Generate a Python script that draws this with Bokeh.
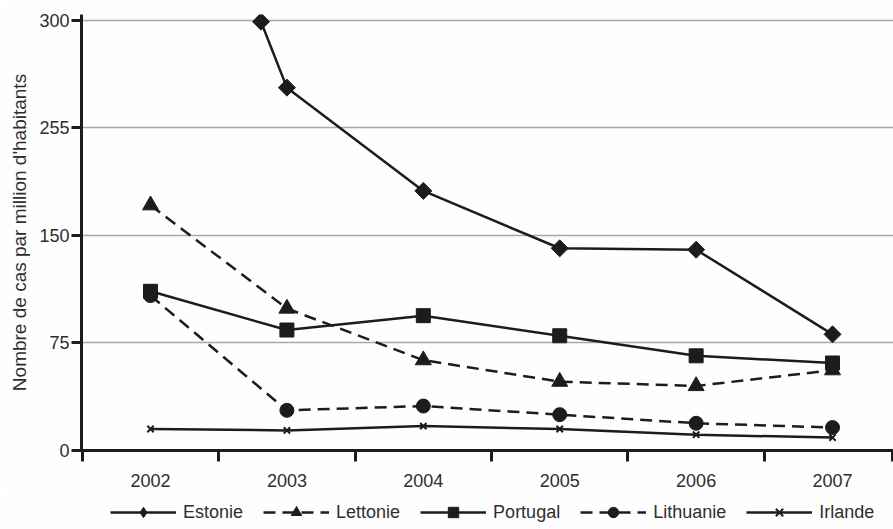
import math
from bokeh.plotting import figure
from bokeh.layouts import column
from bokeh.models import FixedTicker, Legend, LegendItem, Range1d
from bokeh.embed import file_html
from bokeh.resources import INLINE

years = [2002, 2003, 2004, 2005, 2006, 2007]
year_labels = ["2002", "2003", "2004", "2005", "2006", "2007"]
# Estonia's first visible point sits at the top edge, between 2002 and 2003
estonie_x = [2002.81, 2003, 2004, 2005, 2006, 2007]
estonie = [299, 253, 181, 141, 140, 81]
lettonie = [171, 99, 63, 48, 45, 56]
portugal = [111, 84, 94, 80, 66, 61]
lithuanie = [108, 28, 31, 25, 19, 16]
irlande = [15, 14, 17, 15, 11, 9]
y_ticks = [0, 75, 150, 225, 300]
y_tick_labels = ["0", "75", "150", "255", "300"]

FONT = "Liberation Sans"
INK = "#1c1c1c"
TXT = "#2e2e2e"
BG = "#fefefe"

p = figure(frame_width=812, frame_height=436, output_backend="svg", toolbar_location=None,
           x_range=Range1d(2001.494, 2007.447), y_range=Range1d(0, 304),
           min_border_left=81, min_border_right=0, min_border_top=14, min_border_bottom=45)
p.outline_line_color = None
p.background_fill_color = BG
p.border_fill_color = BG

# x axis
p.xaxis.ticker = FixedTicker(ticks=years, minor_ticks=[y - 0.5 for y in years] + [2007.44])
p.xaxis.major_label_overrides = {y: l for y, l in zip(years, year_labels)}
p.xaxis.major_tick_out = 0
p.xaxis.major_tick_in = 0
p.xaxis.minor_tick_out = 11
p.xaxis.minor_tick_in = 0
p.xaxis.minor_tick_line_width = 3
p.xaxis.minor_tick_line_color = INK
p.xaxis.axis_line_width = 3
p.xaxis.axis_line_color = INK
p.xaxis.major_label_text_font = FONT
p.xaxis.major_label_text_font_size = "18px"
p.xaxis.major_label_text_color = TXT
p.xaxis.major_label_standoff = 12

# y axis
p.yaxis.ticker = FixedTicker(ticks=y_ticks, minor_ticks=[])
p.yaxis.major_label_overrides = {t: l for t, l in zip(y_ticks, y_tick_labels)}
p.yaxis.major_tick_out = 10
p.yaxis.major_tick_in = 0
p.yaxis.major_tick_line_width = 3
p.yaxis.major_tick_line_color = INK
p.yaxis.axis_line_width = 3
p.yaxis.axis_line_color = INK
p.yaxis.major_label_text_font = FONT
p.yaxis.major_label_text_font_size = "18px"
p.yaxis.major_label_text_color = TXT
p.yaxis.major_label_standoff = 2
p.yaxis.axis_label = "Nombre de cas par million d'habitants"
p.yaxis.axis_label_text_font = FONT
p.yaxis.axis_label_text_font_style = "normal"
p.yaxis.axis_label_text_font_size = "19px"
p.yaxis.axis_label_text_color = TXT
p.yaxis.axis_label_standoff = 6

p.xgrid.grid_line_color = None
p.ygrid.ticker = FixedTicker(ticks=[75, 150, 225, 300])
p.ygrid.grid_line_color = "#a8a8a8"
p.ygrid.grid_line_width = 1.5

# small figure that only carries the legend underneath the chart
lf = figure(width=893, height=34, output_backend="svg", toolbar_location=None,
            x_axis_type=None, y_axis_type=None, x_range=Range1d(0, 1), y_range=Range1d(0, 1),
            min_border_left=0, min_border_right=0, min_border_top=0, min_border_bottom=0)
lf.outline_line_color = None
lf.background_fill_color = BG
lf.border_fill_color = BG
lf.grid.grid_line_color = None

items = []

def series(x, y, label, marker, size, dash, angle=0.0, legend_marker=None):
    kw = dict(marker=marker, size=size, fill_color=INK, line_color=INK, angle=angle)
    if marker == "x":
        kw["line_width"] = 2
    p.line(x, y, line_color=INK, line_width=2.5, line_dash=dash)
    p.scatter(x, y, **kw)
    # same series in the legend strip (outside its range, so only the legend glyph shows)
    lkw = dict(kw)
    if legend_marker:
        lkw.update(marker=legend_marker, angle=0.0)
    l = lf.line(x, y, line_color=INK, line_width=2.5, line_dash=dash)
    s = lf.scatter(x, y, **lkw)
    items.append(LegendItem(label=label, renderers=[l, s]))

series(estonie_x, estonie, "Estonie", "square", 12, "solid", angle=math.pi / 4, legend_marker="diamond")
series(years, lettonie, "Lettonie", "triangle", 16, "12 7")
series(years, portugal, "Portugal", "square", 14, "solid")
series(years, lithuanie, "Lithuanie", "circle", 14, "12 7")
series(years, irlande, "Irlande", "x", 9, "solid")

legend = Legend(items=items, orientation="horizontal", location=(29, 4),
                glyph_width=66, glyph_height=26, label_standoff=7, spacing=20,
                label_text_font=FONT, label_text_font_size="18px",
                label_text_color=TXT, border_line_color=None,
                background_fill_alpha=0, padding=0, margin=0)
lf.add_layout(legend, "center")

open("out.html", "w").write(file_html(column(p, lf, spacing=0), INLINE))
